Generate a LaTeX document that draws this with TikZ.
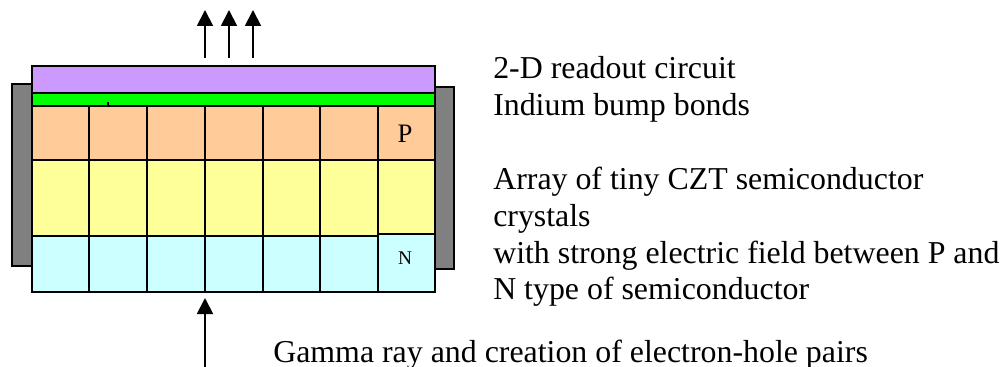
\documentclass[tikz,border=0pt]{standalone}
\usepackage{fontspec}
\setmainfont{Liberation Serif}
\usetikzlibrary{arrows.meta}
\definecolor{readoutcol}{HTML}{CC99FF}
\definecolor{bumpcol}{HTML}{00FF00}
\definecolor{pcol}{HTML}{FFCC99}
\definecolor{czcol}{HTML}{FFFF99}
\definecolor{ncol}{HTML}{CCFFFF}
\definecolor{sidecol}{HTML}{808080}
\tikzset{
    cellline/.style = {line width = 1.5pt, draw = black},
    rayarrow/.style = {line width = 1.4pt, -{Triangle[length = 12pt, width = 12pt]}},
    caption/.style = {anchor = base west, inner sep = 0pt, font = \fontsize{23.9pt}{28pt}\selectfont},
    celllabel/.style = {inner sep = 0pt, text = black}
}
\begin{document}
\begin{tikzpicture}[x = 0.75pt, y = -0.75pt]
    \useasboundingbox (0,0) rectangle (1004,367);
    \draw[cellline, fill = sidecol] (12,84) rectangle (32,266);
    \draw[cellline, fill = sidecol] (435,87) rectangle (454,269);
    \draw[cellline, fill = readoutcol] (32,66) rectangle (435,93);
    \draw[cellline, fill = bumpcol] (32,93) rectangle (435,106);
    \draw[cellline, fill = pcol] (32,106) rectangle (435,160);
    \draw[cellline, fill = czcol] (32,160) rectangle (378,236);
    \draw[cellline, fill = czcol] (378,160) rectangle (435,234);
    \draw[cellline, fill = ncol] (32,236) rectangle (378,292);
    \draw[cellline, fill = ncol] (378,234) rectangle (435,292);
    \foreach \x in {89,147,205,263,320,378}
        \draw[cellline] (\x,106) -- (\x,292);
    \draw[line width = 0.8pt] (108,102) -- (108,106);
    % labels in the last column
    \node[celllabel, font = \fontsize{20pt}{22pt}\selectfont] (plabel) at (405,134) {P};
    \node[celllabel, font = \fontsize{14.5pt}{16pt}\selectfont] (nlabel) at (405,258) {N};
    % arrows
    \coordinate (outa) at (205,58);
    \coordinate (outb) at (229,58);
    \coordinate (outc) at (253,58);
    \coordinate (outatip) at (205,10);
    \coordinate (outbtip) at (229,10);
    \coordinate (outctip) at (253,10);
    \coordinate (rayend) at (205,367);
    \coordinate (raytip) at (205,298);
    \draw[rayarrow] (outa) -- (outatip);
    \draw[rayarrow] (outb) -- (outbtip);
    \draw[rayarrow] (outc) -- (outctip);
    \draw[rayarrow] (rayend) -- (raytip);
    % text on the right
    \node[caption] (readout) at (493,79) {2-D readout circuit};
    \node[caption] (bumps) at (493,116) {Indium bump bonds};
    \node[caption] (arrayone) at (493,190) {Array of tiny CZT semiconductor};
    \node[caption] (arraytwo) at (493,227) {crystals};
    \node[caption] (arraythree) at (493,264) {with strong electric field between P and};
    \node[caption] (arrayfour) at (493,300) {N type of semiconductor};
    \node[caption] (gamma) at (273,362) {Gamma ray and creation of electron-hole pairs};
\end{tikzpicture}
\end{document}
